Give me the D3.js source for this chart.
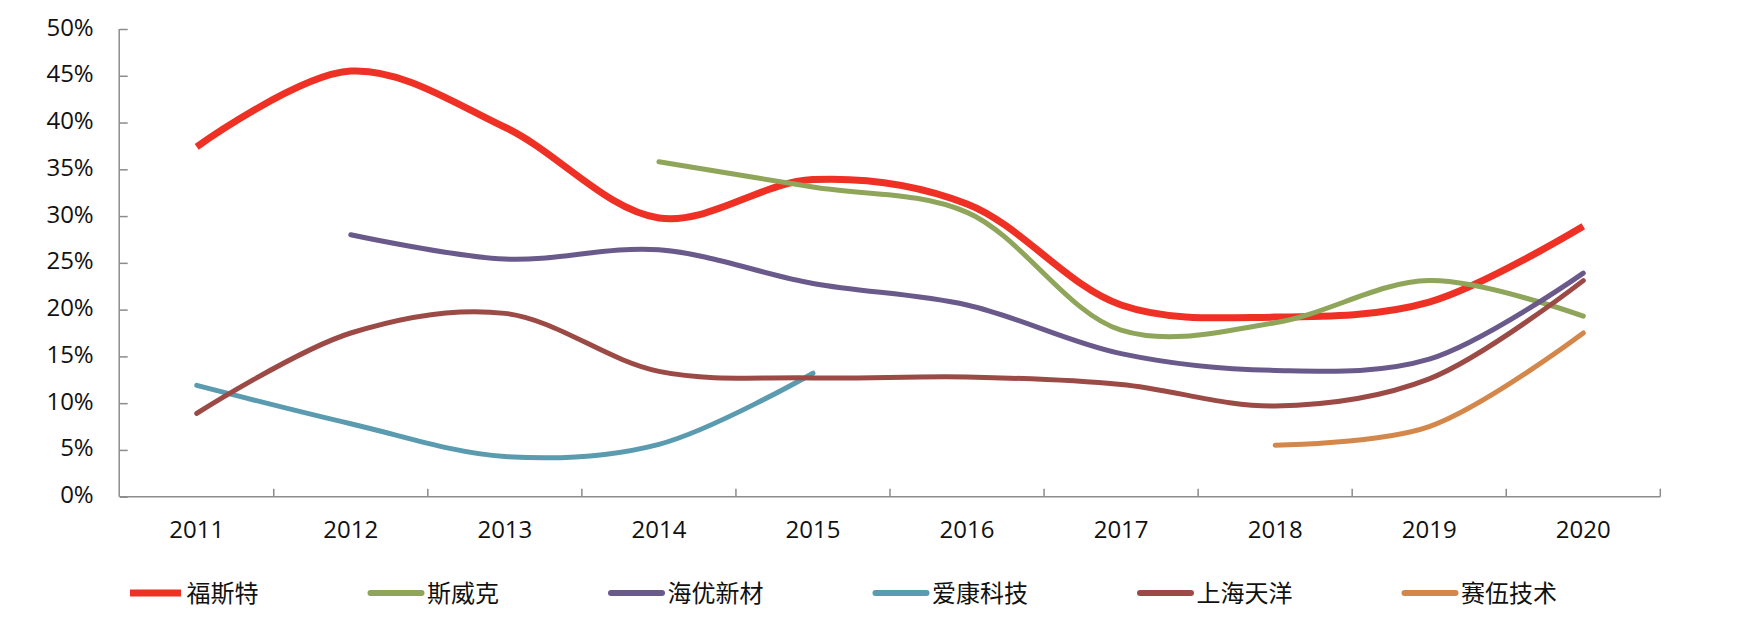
<html>
<head>
  <meta charset="utf-8">
  <script src="https://d3js.org/d3.v7.min.js"></script>
  <style>
    body { margin: 0; background: #fff; }
    svg text { fill: #111; }
  </style>
</head>
<body>
  <svg id="chart"></svg>

  <script>
    // data (percent)
    const years = ['2011', '2012', '2013', '2014', '2015', '2016', '2017', '2018', '2019', '2020'];
    const names = ['福斯特', '斯威克', '海优新材', '爱康科技', '上海天洋', '赛伍技术'];
    const fst  = [37.4, 45.5, 39.5, 29.8, 33.9, 31.3, 20.5, 19.2, 20.8, 28.9];
    const swk  = [null, null, null, 35.8, 33.1, 30.4, 17.8, 18.6, 23.1, 19.3];
    const hyxc = [null, 28.0, 25.4, 26.4, 22.8, 20.5, 15.3, 13.5, 14.7, 23.9];
    const akkj = [11.9, 7.8, 4.3, 5.6, 13.2, null, null, null, null, null];
    const shty = [8.9, 17.5, 19.6, 13.4, 12.7, 12.8, 12.0, 9.7, 12.6, 23.1];
    const swjs = [null, null, null, null, null, null, null, 5.5, 7.5, 17.5];
    const yTicks = [0, 5, 10, 15, 20, 25, 30, 35, 40, 45, 50];

    const series = [fst, swk, hyxc, akkj, shty, swjs];
    const colors = ['#ee3124', '#8fa55a', '#6a5a8c', '#5a9bb0', '#9c4a45', '#d4874a'];
    const widths = [7, 5, 5, 5, 5, 5];

    const W = 1748, H = 628;
    const plotL = 119.7, plotR = 1660.3, plotT = 29, plotB = 496.7;

    const svg = d3.select('#chart').attr('width', W).attr('height', H);

    const x = d3.scaleBand().domain(years).range([plotL, plotR]).paddingInner(0).paddingOuter(0);
    const y = d3.scaleLinear().domain([0, 50]).range([plotB, plotT]);
    const cx = d => x(d) + x.bandwidth() / 2;

    // y axis
    const yAxis = svg.append('g')
      .attr('transform', `translate(${plotL},0)`)
      .call(d3.axisLeft(y).tickValues(yTicks).tickSize(-8).tickPadding(26).tickFormat(d => d + '%'));
    yAxis.selectAll('line, path').attr('stroke', '#8c8c8c').attr('stroke-width', 1.5);
    yAxis.select('.domain').attr('d', `M-0.5,${plotT}V${plotB}`);
    yAxis.selectAll('text')
      .attr('font-family', '"Open Sans", "Noto Sans", sans-serif')
      .attr('font-size', 24).attr('dy', '0.25em');

    // x axis: labels at band centres, ticks on band edges
    const xAxis = svg.append('g')
      .attr('transform', `translate(0,${plotB})`)
      .call(d3.axisBottom(x).tickSize(0).tickPadding(24));
    xAxis.select('.domain').attr('stroke', '#8c8c8c').attr('stroke-width', 1.5)
      .attr('d', `M${plotL},0H${plotR}`);
    xAxis.selectAll('text')
      .attr('font-family', '"Open Sans", "Noto Sans", sans-serif')
      .attr('font-size', 24);

    const edges = years.map(d => x(d)).concat([plotR]).slice(1);
    svg.append('g').selectAll('line')
      .data(edges)
      .enter().append('line')
      .attr('x1', d => d).attr('x2', d => d)
      .attr('y1', plotB).attr('y2', plotB - 8)
      .attr('stroke', '#8c8c8c').attr('stroke-width', 1.5);

    // lines
    const line = d3.line()
      .defined(d => d.v != null)
      .x(d => cx(d.year))
      .y(d => y(d.v))
      .curve(d3.curveCatmullRom.alpha(0.5));

    series.forEach((s, i) => {
      const pts = years.map((yr, j) => ({year: yr, v: s[j]}));
      svg.append('path')
        .attr('d', line(pts))
        .attr('fill', 'none')
        .attr('stroke', colors[i])
        .attr('stroke-width', widths[i])
        .attr('stroke-linecap', i === 0 ? 'butt' : 'round')
        .attr('stroke-linejoin', 'round');
    });

    // legend
    const legend = svg.append('g');
    let lx = 130;
    const ly = 593;
    names.forEach((n, i) => {
      const g = legend.append('g');
      g.append('line')
        .attr('x1', lx).attr('x2', lx + 51)
        .attr('y1', ly).attr('y2', ly)
        .attr('stroke', colors[i])
        .attr('stroke-width', i === 0 ? 7 : 6)
        .attr('stroke-linecap', i === 0 ? 'butt' : 'round');
      const t = g.append('text')
        .attr('x', lx + 56.5).attr('y', ly)
        .attr('dy', '0.36em')
        .attr('font-family', '"Noto Sans CJK SC", sans-serif')
        .attr('font-size', 24)
        .text(n);
      lx = lx + 56.5 + t.node().getComputedTextLength() + 112;
    });
  </script>
</body>
</html>
